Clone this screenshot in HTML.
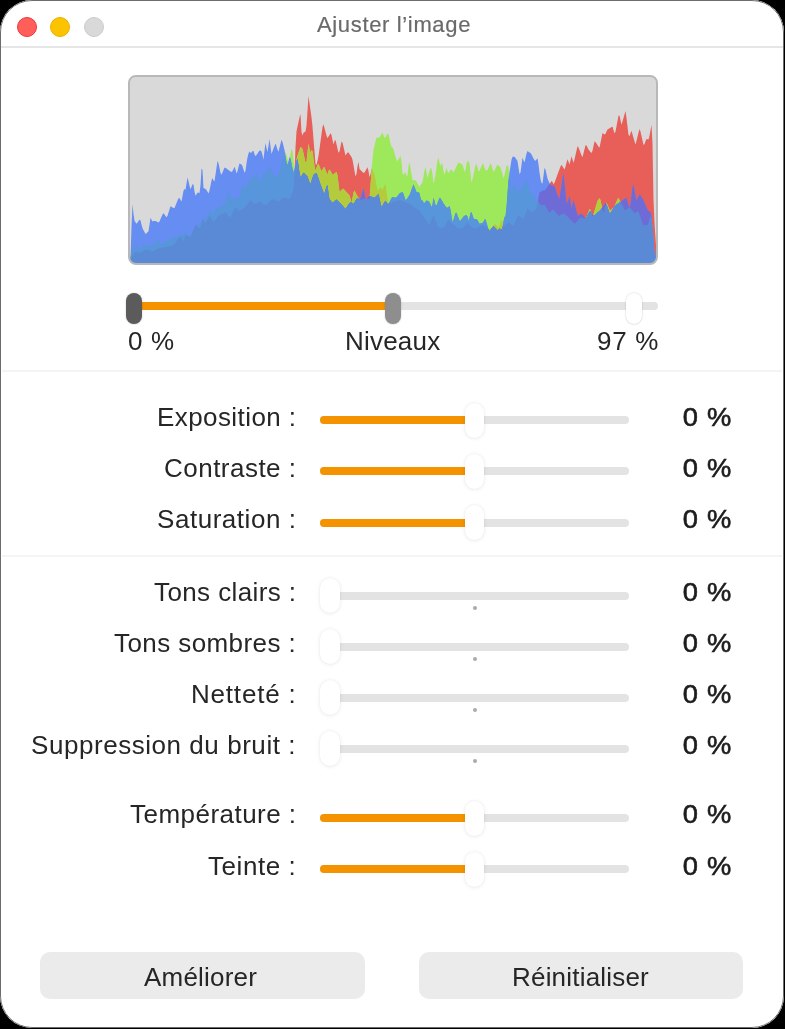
<!DOCTYPE html>
<html><head><meta charset="utf-8">
<style>
html,body{margin:0;padding:0;background:#000;width:785px;height:1029px;overflow:hidden;}
*{box-sizing:border-box;}
.win{position:absolute;left:0;top:0;width:784px;height:1028px;background:#fff;border-radius:32px;overflow:hidden;font-family:"Liberation Sans",sans-serif;}
.wborder{position:absolute;left:0;top:0;width:784px;height:1028px;border:1px solid #6c6c6c;border-radius:32px;}
.abs{position:absolute;}
.tl{position:absolute;width:20px;height:20px;border-radius:50%;top:16.5px;}
.title{position:absolute;left:1.5px;width:784px;text-align:center;top:13.68px;font-size:22px;line-height:22px;color:#6a6a6a;letter-spacing:0.65px;-webkit-text-stroke:0.2px #6a6a6a;}
.sep{position:absolute;left:2px;right:2px;height:2px;background:#f4f4f4;}
.lbl,.val,.lvl,.btxt,.title{will-change:transform;}
.lbl{position:absolute;font-size:26px;line-height:26px;color:#262626;white-space:nowrap;}
.val{position:absolute;right:52.2px;font-size:26px;line-height:26px;color:#1c1c1c;white-space:nowrap;letter-spacing:0.8px;-webkit-text-stroke:0.6px #1c1c1c;transform:scaleX(1.05);transform-origin:100% 50%;}
.trk{position:absolute;left:320px;width:309px;height:8px;border-radius:4px;background:#e3e3e3;}
.fill{position:absolute;left:320px;height:8px;border-radius:4px 0 0 4px;background:#f49200;}
.knob{position:absolute;width:16px;height:31px;border-radius:8px;background:#fff;box-shadow:0 0 2px rgba(0,0,0,0.18),0 0.5px 1.5px rgba(0,0,0,0.08);}
.rknob{position:absolute;width:19.5px;height:35px;border-radius:10px;background:#fff;box-shadow:0 0.5px 4px rgba(0,0,0,0.09),0 0 1.5px rgba(0,0,0,0.05);}
.dot{position:absolute;left:472.5px;width:4px;height:4px;border-radius:50%;background:#ababab;}
.lvl{position:absolute;font-size:26px;line-height:26px;color:#262626;white-space:nowrap;}
.btn{position:absolute;top:952px;height:47px;border-radius:10px;background:#ebebeb;}
.btxt{position:absolute;font-size:26px;line-height:26px;color:#262626;white-space:nowrap;letter-spacing:0.2px;}
</style></head><body>
<div class="win">
  <div class="tl" style="left:16.6px;background:#ff5f58;border:1px solid #e5393f;"></div>
  <div class="tl" style="left:50px;background:#fcc400;border:1px solid #eaae00;"></div>
  <div class="tl" style="left:83.6px;background:#d9d9d9;border:1px solid #cbcbcb;"></div>
  <div class="title">Ajuster l’image</div>
  <div class="abs" style="left:0;top:46px;width:784px;height:2px;background:#e6e6e6;"></div>

  <div class="abs" style="left:128px;top:75px;width:530px;height:190px;">
    <svg width="530" height="190" viewBox="128 75 530 190" style="position:absolute;left:0;top:0">
    <defs><clipPath id="hc"><rect x="129.8" y="76.8" width="526.4" height="186.4" rx="6.5" ry="6.5"/></clipPath></defs>
    <g clip-path="url(#hc)">
    <rect x="128" y="75" width="530" height="190" fill="#d9d9d9"/>
<path fill="#e85f5a" d="M128.5 265.0 L128.5 262.0 129.5 260.4 130.5 258.9 131.5 257.4 132.5 255.9 133.5 254.4 134.5 252.9 135.5 251.8 136.5 252.0 137.5 252.3 138.5 252.6 139.5 252.8 140.5 252.8 141.5 252.2 142.5 251.5 143.5 250.9 144.5 250.3 145.5 249.7 146.5 249.4 147.5 249.8 148.5 250.2 149.5 250.6 150.5 251.0 151.5 251.4 152.5 251.6 153.5 251.1 154.5 250.6 155.5 250.1 156.5 249.6 157.5 249.1 158.5 248.6 159.5 248.1 160.5 248.0 161.5 247.8 162.5 247.6 163.5 247.5 164.5 247.3 165.5 247.1 166.5 247.0 167.5 246.7 168.5 246.4 169.5 246.0 170.5 245.7 171.5 245.4 172.5 245.1 173.5 244.7 174.5 244.1 175.5 242.7 176.5 241.2 177.5 239.8 178.5 238.4 179.5 237.0 180.5 236.5 181.5 238.1 182.5 239.7 183.5 241.4 184.5 237.8 185.5 234.6 186.5 235.1 187.5 235.6 188.5 236.1 189.5 236.6 190.5 236.8 191.5 234.6 192.5 232.3 193.5 230.1 194.5 227.9 195.5 225.7 196.5 225.4 197.5 226.4 198.5 227.3 199.5 228.3 200.5 227.0 201.5 223.5 202.5 220.0 203.5 220.5 204.5 222.0 205.5 223.2 206.5 221.2 207.5 219.2 208.5 217.2 209.5 215.2 210.5 216.9 211.5 218.5 212.5 220.2 213.5 221.8 214.5 220.9 215.5 219.6 216.5 218.3 217.5 217.1 218.5 215.8 219.5 215.0 220.5 214.6 221.5 214.2 222.5 213.8 223.5 213.4 224.5 213.0 225.5 212.6 226.5 213.4 227.5 214.8 228.5 216.1 229.5 217.5 230.5 216.8 231.5 214.8 232.5 212.8 233.5 210.7 234.5 208.7 235.5 207.3 236.5 208.3 237.5 209.3 238.5 210.3 239.5 211.1 240.5 210.4 241.5 209.6 242.5 208.9 243.5 208.1 244.5 207.4 245.5 206.4 246.5 205.1 247.5 203.9 248.5 202.6 249.5 201.3 250.5 200.3 251.5 201.3 252.5 202.3 253.5 203.3 254.5 204.3 255.5 203.8 256.5 203.3 257.5 202.8 258.5 202.3 259.5 201.8 260.5 202.0 261.5 202.7 262.5 203.5 263.5 204.2 264.5 204.9 265.5 205.5 266.5 204.5 267.5 203.5 268.5 202.5 269.5 201.5 270.5 200.5 271.5 199.5 272.5 198.9 273.5 199.3 274.5 199.7 275.5 200.2 276.5 200.6 277.5 201.0 278.5 201.4 279.5 201.1 280.5 200.1 281.5 199.1 282.5 198.1 283.5 197.6 284.5 197.8 285.5 198.0 286.5 198.2 287.5 198.3 288.5 198.5 289.5 198.7 290.5 197.2 291.5 194.6 292.5 192.0 293.5 189.3 294.5 174.4 295.5 147.1 296.5 131.2 297.5 126.5 298.5 121.9 299.5 117.3 300.5 114.3 301.5 132.1 302.5 135.5 303.5 132.8 304.5 132.1 305.5 131.6 306.5 125.4 307.5 110.8 308.5 96.1 309.5 103.2 310.5 110.3 311.5 117.3 312.5 126.6 313.5 139.0 314.5 151.5 315.5 164.0 316.5 164.9 317.5 160.8 318.5 155.8 319.5 148.7 320.5 141.5 321.5 134.3 322.5 127.1 323.5 124.3 324.5 128.1 325.5 131.8 326.5 135.6 327.5 138.3 328.5 136.6 329.5 135.0 330.5 133.3 331.5 135.0 332.5 140.1 333.5 144.4 334.5 141.0 335.5 139.9 336.5 144.2 337.5 148.4 338.5 152.7 339.5 151.5 340.5 146.6 341.5 141.7 342.5 142.4 343.5 146.8 344.5 151.2 345.5 155.6 346.5 154.1 347.5 152.6 348.5 152.6 349.5 154.1 350.5 155.5 351.5 157.0 352.5 159.7 353.5 165.3 354.5 170.9 355.5 176.5 356.5 174.1 357.5 166.5 358.5 161.8 359.5 169.0 360.5 170.1 361.5 171.1 362.5 172.1 363.5 173.1 364.5 172.5 365.5 170.7 366.5 169.0 367.5 167.2 368.5 171.0 369.5 177.2 370.5 174.1 371.5 168.8 372.5 169.6 373.5 171.9 374.5 174.3 375.5 179.6 376.5 185.3 377.5 191.0 378.5 189.6 379.5 188.2 380.5 187.2 381.5 188.7 382.5 189.8 383.5 187.4 384.5 185.1 385.5 184.6 386.5 191.7 387.5 198.8 388.5 203.6 389.5 203.1 390.5 202.7 391.5 202.2 392.5 201.9 393.5 201.6 394.5 201.4 395.5 201.1 396.5 200.9 397.5 200.6 398.5 200.4 399.5 200.1 400.5 200.2 401.5 200.6 402.5 201.0 403.5 201.4 404.5 201.8 405.5 202.2 406.5 202.6 407.5 203.0 408.5 203.4 409.5 203.8 410.5 204.3 411.5 205.1 412.5 205.8 413.5 206.4 414.5 207.2 415.5 207.8 416.5 208.6 417.5 209.2 418.5 209.9 419.5 210.7 420.5 211.8 421.5 213.3 422.5 214.9 423.5 216.4 424.5 217.9 425.5 219.4 426.5 220.9 427.5 222.4 428.5 223.9 429.5 224.2 430.5 221.9 431.5 219.7 432.5 217.4 433.5 215.1 434.5 217.4 435.5 220.1 436.5 222.8 437.5 225.6 438.5 227.3 439.5 227.5 440.5 227.7 441.5 227.9 442.5 228.1 443.5 228.3 444.5 226.7 445.5 224.7 446.5 222.7 447.5 220.7 448.5 219.6 449.5 220.6 450.5 221.7 451.5 222.7 452.5 223.7 453.5 224.5 454.5 225.3 455.5 226.1 456.5 226.9 457.5 227.7 458.5 228.3 459.5 228.3 460.5 228.3 461.5 228.3 462.5 228.3 463.5 227.3 464.5 226.0 465.5 224.7 466.5 223.5 467.5 223.1 468.5 224.1 469.5 225.1 470.5 226.1 471.5 227.1 472.5 227.4 473.5 227.7 474.5 227.9 475.5 228.2 476.5 228.1 477.5 227.6 478.5 227.1 479.5 226.6 480.5 226.1 481.5 225.6 482.5 225.1 483.5 225.2 484.5 225.9 485.5 226.6 486.5 227.3 487.5 227.9 488.5 228.6 489.5 229.3 490.5 228.6 491.5 227.6 492.5 226.6 493.5 225.6 494.5 224.6 495.5 224.1 496.5 225.4 497.5 226.8 498.5 228.2 499.5 225.4 500.5 222.2 501.5 219.6 502.5 222.5 503.5 225.4 504.5 225.3 505.5 224.4 506.5 223.5 507.5 222.7 508.5 221.8 509.5 222.4 510.5 223.4 511.5 224.3 512.5 225.3 513.5 225.4 514.5 223.4 515.5 221.4 516.5 219.3 517.5 217.3 518.5 215.3 519.5 215.7 520.5 216.7 521.5 217.6 522.5 218.6 523.5 218.6 524.5 216.1 525.5 213.6 526.5 211.2 527.5 208.7 528.5 209.0 529.5 210.0 530.5 211.0 531.5 212.0 532.5 212.2 533.5 211.2 534.5 210.3 535.5 209.3 536.5 208.3 537.5 203.2 538.5 197.5 539.5 192.4 540.5 191.9 541.5 191.3 542.5 190.8 543.5 190.3 544.5 190.5 545.5 189.6 546.5 188.2 547.5 186.8 548.5 185.4 549.5 183.9 550.5 182.5 551.5 181.1 552.5 182.1 553.5 184.2 554.5 182.8 555.5 180.1 556.5 177.3 557.5 174.5 558.5 171.8 559.5 169.2 560.5 166.5 561.5 164.7 562.5 166.3 563.5 168.0 564.5 169.6 565.5 166.7 566.5 162.6 567.5 159.3 568.5 161.8 569.5 164.4 570.5 160.4 571.5 156.3 572.5 159.5 573.5 162.8 574.5 159.2 575.5 154.9 576.5 150.6 577.5 146.3 578.5 147.5 579.5 150.1 580.5 152.7 581.5 155.3 582.5 157.2 583.5 153.2 584.5 149.2 585.5 145.2 586.5 145.4 587.5 147.5 588.5 149.5 589.5 150.7 590.5 151.9 591.5 153.0 592.5 150.7 593.5 146.1 594.5 141.5 595.5 141.9 596.5 143.5 597.5 145.1 598.5 146.7 599.5 147.6 600.5 142.7 601.5 137.9 602.5 133.0 603.5 133.7 604.5 134.4 605.5 133.7 606.5 131.6 607.5 129.6 608.5 129.0 609.5 128.3 610.5 127.7 611.5 127.0 612.5 126.7 613.5 130.1 614.5 133.4 615.5 131.6 616.5 126.3 617.5 121.1 618.5 115.8 619.5 115.5 620.5 120.2 621.5 124.8 622.5 121.4 623.5 117.9 624.5 114.5 625.5 111.0 626.5 118.1 627.5 126.4 628.5 134.7 629.5 136.2 630.5 133.2 631.5 130.8 632.5 134.3 633.5 137.7 634.5 141.2 635.5 144.6 636.5 140.7 637.5 136.7 638.5 132.8 639.5 128.9 640.5 131.6 641.5 136.0 642.5 140.5 643.5 144.9 644.5 144.1 645.5 141.2 646.5 138.9 647.5 139.2 648.5 139.5 649.5 135.7 650.5 130.2 651.5 124.7 652.5 143.7 653.5 199.5 654.5 222.7 655.5 237.8 656.5 252.8 657.5 262.6 L657.5 265.0 Z"/>
<path fill="#9ee85c" d="M128.5 265.0 L128.5 262.0 129.5 258.5 130.5 255.1 131.5 252.5 132.5 249.9 133.5 247.3 134.5 245.8 135.5 246.2 136.5 246.5 137.5 246.8 138.5 248.1 139.5 249.6 140.5 249.9 141.5 248.2 142.5 246.6 143.5 245.0 144.5 244.8 145.5 245.2 146.5 245.6 147.5 246.0 148.5 246.3 149.5 246.7 150.5 246.6 151.5 246.0 152.5 245.4 153.5 244.8 154.5 244.0 155.5 242.9 156.5 241.8 157.5 240.6 158.5 239.7 159.5 241.1 160.5 242.5 161.5 243.8 162.5 244.1 163.5 243.3 164.5 242.5 165.5 241.7 166.5 240.9 167.5 240.1 168.5 239.4 169.5 239.0 170.5 238.7 171.5 238.3 172.5 237.9 173.5 237.5 174.5 237.1 175.5 236.9 176.5 236.6 177.5 236.4 178.5 236.1 179.5 235.7 180.5 235.2 181.5 234.7 182.5 234.2 183.5 233.7 184.5 233.2 185.5 233.2 186.5 233.7 187.5 234.2 188.5 234.7 189.5 235.2 190.5 235.4 191.5 233.7 192.5 232.0 193.5 230.2 194.5 228.5 195.5 226.8 196.5 225.6 197.5 224.9 198.5 224.1 199.5 223.4 200.5 222.6 201.5 221.9 202.5 221.1 203.5 220.4 204.5 219.7 205.5 218.9 206.5 218.2 207.5 216.0 208.5 213.2 209.5 210.4 210.5 209.1 211.5 211.5 212.5 213.9 213.5 216.4 214.5 210.9 215.5 208.2 216.5 207.9 217.5 207.6 218.5 207.3 219.5 206.9 220.5 206.4 221.5 205.9 222.5 205.4 223.5 204.9 224.5 204.4 225.5 201.3 226.5 198.2 227.5 195.2 228.5 192.1 229.5 194.5 230.5 197.0 231.5 198.9 232.5 198.7 233.5 198.5 234.5 198.4 235.5 198.2 236.5 198.1 237.5 197.9 238.5 197.7 239.5 197.1 240.5 192.6 241.5 188.0 242.5 185.7 243.5 186.6 244.5 187.5 245.5 187.2 246.5 185.5 247.5 183.9 248.5 182.2 249.5 180.8 250.5 179.8 251.5 178.8 252.5 177.8 253.5 176.8 254.5 175.8 255.5 174.7 256.5 173.7 257.5 174.2 258.5 178.1 259.5 182.0 260.5 182.5 261.5 179.7 262.5 176.9 263.5 174.3 264.5 173.2 265.5 172.1 266.5 170.9 267.5 169.8 268.5 168.7 269.5 167.6 270.5 169.6 271.5 171.6 272.5 173.5 273.5 175.5 274.5 176.0 275.5 176.3 276.5 176.7 277.5 177.0 278.5 174.4 279.5 171.0 280.5 167.6 281.5 164.2 282.5 161.1 283.5 158.1 284.5 155.1 285.5 152.1 286.5 154.4 287.5 158.9 288.5 163.5 289.5 158.6 290.5 153.8 291.5 148.9 292.5 151.1 293.5 160.4 294.5 169.7 295.5 166.2 296.5 159.4 297.5 155.7 298.5 152.8 299.5 150.0 300.5 147.1 301.5 147.7 302.5 148.8 303.5 153.4 304.5 157.9 305.5 162.5 306.5 161.7 307.5 152.5 308.5 143.4 309.5 148.8 310.5 152.7 311.5 149.9 312.5 151.3 313.5 158.7 314.5 166.2 315.5 170.5 316.5 167.7 317.5 164.9 318.5 163.7 319.5 166.5 320.5 169.2 321.5 171.1 322.5 169.4 323.5 167.8 324.5 167.1 325.5 169.9 326.5 172.7 327.5 174.4 328.5 171.1 329.5 169.4 330.5 171.1 331.5 172.8 332.5 174.5 333.5 174.4 334.5 173.5 335.5 172.7 336.5 171.8 337.5 175.5 338.5 183.8 339.5 192.0 340.5 191.0 341.5 190.0 342.5 189.0 343.5 188.8 344.5 190.0 345.5 191.1 346.5 192.2 347.5 193.3 348.5 194.3 349.5 195.4 350.5 198.5 351.5 202.6 352.5 198.0 353.5 192.4 354.5 190.6 355.5 192.6 356.5 194.5 357.5 196.3 358.5 197.8 359.5 199.3 360.5 199.9 361.5 199.8 362.5 199.7 363.5 199.6 364.5 199.5 365.5 199.4 366.5 199.3 367.5 199.2 368.5 199.1 369.5 199.0 370.5 186.1 371.5 169.9 372.5 159.3 373.5 150.1 374.5 145.6 375.5 141.5 376.5 137.5 377.5 137.7 378.5 137.9 379.5 137.2 380.5 135.6 381.5 134.0 382.5 132.8 383.5 135.3 384.5 137.8 385.5 137.3 386.5 135.6 387.5 133.8 388.5 134.0 389.5 138.7 390.5 143.5 391.5 146.7 392.5 147.6 393.5 149.6 394.5 153.1 395.5 156.6 396.5 160.1 397.5 160.9 398.5 159.2 399.5 157.4 400.5 155.7 401.5 161.8 402.5 173.0 403.5 175.0 404.5 173.0 405.5 172.6 406.5 176.0 407.5 175.5 408.5 165.7 409.5 162.3 410.5 168.3 411.5 174.3 412.5 180.3 413.5 180.3 414.5 180.3 415.5 180.3 416.5 181.4 417.5 183.3 418.5 185.2 419.5 187.1 420.5 185.1 421.5 183.8 422.5 182.5 423.5 176.5 424.5 170.5 425.5 166.8 426.5 172.4 427.5 178.0 428.5 174.4 429.5 170.9 430.5 168.1 431.5 168.8 432.5 174.0 433.5 183.7 434.5 179.9 435.5 174.5 436.5 167.8 437.5 160.3 438.5 157.7 439.5 162.8 440.5 166.2 441.5 162.9 442.5 164.6 443.5 171.2 444.5 174.8 445.5 171.4 446.5 168.0 447.5 171.3 448.5 173.1 449.5 171.4 450.5 169.8 451.5 169.8 452.5 171.0 453.5 172.2 454.5 170.6 455.5 168.4 456.5 166.2 457.5 164.0 458.5 162.5 459.5 163.0 460.5 163.5 461.5 164.0 462.5 164.5 463.5 167.9 464.5 172.0 465.5 169.9 466.5 163.9 467.5 160.6 468.5 161.5 469.5 163.4 470.5 173.0 471.5 182.6 472.5 179.4 473.5 174.6 474.5 169.9 475.5 165.2 476.5 163.8 477.5 167.4 478.5 171.0 479.5 170.9 480.5 168.5 481.5 166.1 482.5 163.6 483.5 164.2 484.5 167.7 485.5 170.2 486.5 170.2 487.5 170.2 488.5 167.8 489.5 165.5 490.5 163.1 491.5 164.9 492.5 168.5 493.5 172.0 494.5 170.6 495.5 168.6 496.5 166.6 497.5 164.6 498.5 165.6 499.5 166.6 500.5 167.6 501.5 170.4 502.5 174.3 503.5 178.3 504.5 175.3 505.5 170.6 506.5 165.9 507.5 164.8 508.5 167.5 509.5 176.9 510.5 188.0 511.5 190.9 512.5 188.3 513.5 185.7 514.5 184.1 515.5 186.8 516.5 189.5 517.5 192.2 518.5 191.3 519.5 190.0 520.5 188.7 521.5 187.4 522.5 186.0 523.5 184.6 524.5 183.2 525.5 181.8 526.5 180.4 527.5 183.6 528.5 187.3 529.5 191.0 530.5 193.1 531.5 194.1 532.5 195.1 533.5 196.1 534.5 197.1 535.5 198.5 536.5 199.9 537.5 201.2 538.5 202.5 539.5 203.8 540.5 205.1 541.5 205.8 542.5 205.5 543.5 205.3 544.5 205.0 545.5 206.2 546.5 208.2 547.5 210.2 548.5 212.2 549.5 213.0 550.5 212.0 551.5 211.0 552.5 210.0 553.5 209.7 554.5 210.9 555.5 212.2 556.5 213.5 557.5 214.7 558.5 216.0 559.5 215.7 560.5 215.2 561.5 214.7 562.5 214.2 563.5 213.7 564.5 213.9 565.5 214.9 566.5 215.9 567.5 216.8 568.5 217.8 569.5 218.8 570.5 219.8 571.5 220.8 572.5 221.9 573.5 222.9 574.5 223.9 575.5 223.6 576.5 222.3 577.5 221.1 578.5 219.8 579.5 218.6 580.5 217.5 581.5 217.8 582.5 218.0 583.5 218.2 584.5 218.5 585.5 218.7 586.5 217.0 587.5 214.3 588.5 211.7 589.5 209.1 590.5 210.1 591.5 213.6 592.5 217.1 593.5 214.4 594.5 211.0 595.5 207.7 596.5 204.3 597.5 201.1 598.5 199.6 599.5 198.2 600.5 200.0 601.5 205.0 602.5 210.0 603.5 213.3 604.5 209.8 605.5 206.3 606.5 202.8 607.5 204.7 608.5 207.2 609.5 209.7 610.5 210.2 611.5 209.4 612.5 208.6 613.5 207.8 614.5 206.2 615.5 203.9 616.5 201.5 617.5 199.2 618.5 198.1 619.5 200.1 620.5 202.1 621.5 204.1 622.5 206.1 623.5 208.1 624.5 210.1 625.5 210.2 626.5 209.6 627.5 208.9 628.5 208.3 629.5 207.6 630.5 208.3 631.5 209.7 632.5 211.0 633.5 212.4 634.5 213.7 635.5 213.2 636.5 212.2 637.5 211.2 638.5 212.2 639.5 215.2 640.5 218.1 641.5 221.1 642.5 224.1 643.5 225.6 644.5 225.6 645.5 225.6 646.5 225.6 647.5 225.6 648.5 223.5 649.5 220.0 650.5 216.5 651.5 217.5 652.5 229.0 653.5 240.5 654.5 252.0 655.5 255.3 656.5 258.6 657.5 262.6 L657.5 265.0 Z"/>
<path fill="#b4cc3c" d="M128.5 265.0 L128.5 262.0 129.5 260.4 130.5 258.9 131.5 257.4 132.5 255.9 133.5 254.4 134.5 252.9 135.5 251.8 136.5 252.0 137.5 252.3 138.5 252.6 139.5 252.8 140.5 252.8 141.5 252.2 142.5 251.5 143.5 250.9 144.5 250.3 145.5 249.7 146.5 249.4 147.5 249.8 148.5 250.2 149.5 250.6 150.5 251.0 151.5 251.4 152.5 251.6 153.5 251.1 154.5 250.6 155.5 250.1 156.5 249.6 157.5 249.1 158.5 248.6 159.5 248.1 160.5 248.0 161.5 247.8 162.5 247.6 163.5 247.5 164.5 247.3 165.5 247.1 166.5 247.0 167.5 246.7 168.5 246.4 169.5 246.0 170.5 245.7 171.5 245.4 172.5 245.1 173.5 244.7 174.5 244.1 175.5 242.7 176.5 241.2 177.5 239.8 178.5 238.4 179.5 237.0 180.5 236.5 181.5 238.1 182.5 239.7 183.5 241.4 184.5 237.8 185.5 234.6 186.5 235.1 187.5 235.6 188.5 236.1 189.5 236.6 190.5 236.8 191.5 234.6 192.5 232.3 193.5 230.2 194.5 228.5 195.5 226.8 196.5 225.6 197.5 226.4 198.5 227.3 199.5 228.3 200.5 227.0 201.5 223.5 202.5 221.1 203.5 220.5 204.5 222.0 205.5 223.2 206.5 221.2 207.5 219.2 208.5 217.2 209.5 215.2 210.5 216.9 211.5 218.5 212.5 220.2 213.5 221.8 214.5 220.9 215.5 219.6 216.5 218.3 217.5 217.1 218.5 215.8 219.5 215.0 220.5 214.6 221.5 214.2 222.5 213.8 223.5 213.4 224.5 213.0 225.5 212.6 226.5 213.4 227.5 214.8 228.5 216.1 229.5 217.5 230.5 216.8 231.5 214.8 232.5 212.8 233.5 210.7 234.5 208.7 235.5 207.3 236.5 208.3 237.5 209.3 238.5 210.3 239.5 211.1 240.5 210.4 241.5 209.6 242.5 208.9 243.5 208.1 244.5 207.4 245.5 206.4 246.5 205.1 247.5 203.9 248.5 202.6 249.5 201.3 250.5 200.3 251.5 201.3 252.5 202.3 253.5 203.3 254.5 204.3 255.5 203.8 256.5 203.3 257.5 202.8 258.5 202.3 259.5 201.8 260.5 202.0 261.5 202.7 262.5 203.5 263.5 204.2 264.5 204.9 265.5 205.5 266.5 204.5 267.5 203.5 268.5 202.5 269.5 201.5 270.5 200.5 271.5 199.5 272.5 198.9 273.5 199.3 274.5 199.7 275.5 200.2 276.5 200.6 277.5 201.0 278.5 201.4 279.5 201.1 280.5 200.1 281.5 199.1 282.5 198.1 283.5 197.6 284.5 197.8 285.5 198.0 286.5 198.2 287.5 198.3 288.5 198.5 289.5 198.7 290.5 197.2 291.5 194.6 292.5 192.0 293.5 189.3 294.5 174.4 295.5 166.2 296.5 159.4 297.5 155.7 298.5 152.8 299.5 150.0 300.5 147.1 301.5 147.7 302.5 148.8 303.5 153.4 304.5 157.9 305.5 162.5 306.5 161.7 307.5 152.5 308.5 143.4 309.5 148.8 310.5 152.7 311.5 149.9 312.5 151.3 313.5 158.7 314.5 166.2 315.5 170.5 316.5 167.7 317.5 164.9 318.5 163.7 319.5 166.5 320.5 169.2 321.5 171.1 322.5 169.4 323.5 167.8 324.5 167.1 325.5 169.9 326.5 172.7 327.5 174.4 328.5 171.1 329.5 169.4 330.5 171.1 331.5 172.8 332.5 174.5 333.5 174.4 334.5 173.5 335.5 172.7 336.5 171.8 337.5 175.5 338.5 183.8 339.5 192.0 340.5 191.0 341.5 190.0 342.5 189.0 343.5 188.8 344.5 190.0 345.5 191.1 346.5 192.2 347.5 193.3 348.5 194.3 349.5 195.4 350.5 198.5 351.5 202.6 352.5 198.0 353.5 192.4 354.5 190.6 355.5 192.6 356.5 194.5 357.5 196.3 358.5 197.8 359.5 199.3 360.5 199.9 361.5 199.8 362.5 199.7 363.5 199.6 364.5 199.5 365.5 199.4 366.5 199.3 367.5 199.2 368.5 199.1 369.5 199.0 370.5 186.1 371.5 169.9 372.5 169.6 373.5 171.9 374.5 174.3 375.5 179.6 376.5 185.3 377.5 191.0 378.5 189.6 379.5 188.2 380.5 187.2 381.5 188.7 382.5 189.8 383.5 187.4 384.5 185.1 385.5 184.6 386.5 191.7 387.5 198.8 388.5 203.6 389.5 203.1 390.5 202.7 391.5 202.2 392.5 201.9 393.5 201.6 394.5 201.4 395.5 201.1 396.5 200.9 397.5 200.6 398.5 200.4 399.5 200.1 400.5 200.2 401.5 200.6 402.5 201.0 403.5 201.4 404.5 201.8 405.5 202.2 406.5 202.6 407.5 203.0 408.5 203.4 409.5 203.8 410.5 204.3 411.5 205.1 412.5 205.8 413.5 206.4 414.5 207.2 415.5 207.8 416.5 208.6 417.5 209.2 418.5 209.9 419.5 210.7 420.5 211.8 421.5 213.3 422.5 214.9 423.5 216.4 424.5 217.9 425.5 219.4 426.5 220.9 427.5 222.4 428.5 223.9 429.5 224.2 430.5 221.9 431.5 219.7 432.5 217.4 433.5 215.1 434.5 217.4 435.5 220.1 436.5 222.8 437.5 225.6 438.5 227.3 439.5 227.5 440.5 227.7 441.5 227.9 442.5 228.1 443.5 228.3 444.5 226.7 445.5 224.7 446.5 222.7 447.5 220.7 448.5 219.6 449.5 220.6 450.5 221.7 451.5 222.7 452.5 223.7 453.5 224.5 454.5 225.3 455.5 226.1 456.5 226.9 457.5 227.7 458.5 228.3 459.5 228.3 460.5 228.3 461.5 228.3 462.5 228.3 463.5 227.3 464.5 226.0 465.5 224.7 466.5 223.5 467.5 223.1 468.5 224.1 469.5 225.1 470.5 226.1 471.5 227.1 472.5 227.4 473.5 227.7 474.5 227.9 475.5 228.2 476.5 228.1 477.5 227.6 478.5 227.1 479.5 226.6 480.5 226.1 481.5 225.6 482.5 225.1 483.5 225.2 484.5 225.9 485.5 226.6 486.5 227.3 487.5 227.9 488.5 228.6 489.5 229.3 490.5 228.6 491.5 227.6 492.5 226.6 493.5 225.6 494.5 224.6 495.5 224.1 496.5 225.4 497.5 226.8 498.5 228.2 499.5 225.4 500.5 222.2 501.5 219.6 502.5 222.5 503.5 225.4 504.5 225.3 505.5 224.4 506.5 223.5 507.5 222.7 508.5 221.8 509.5 222.4 510.5 223.4 511.5 224.3 512.5 225.3 513.5 225.4 514.5 223.4 515.5 221.4 516.5 219.3 517.5 217.3 518.5 215.3 519.5 215.7 520.5 216.7 521.5 217.6 522.5 218.6 523.5 218.6 524.5 216.1 525.5 213.6 526.5 211.2 527.5 208.7 528.5 209.0 529.5 210.0 530.5 211.0 531.5 212.0 532.5 212.2 533.5 211.2 534.5 210.3 535.5 209.3 536.5 208.3 537.5 203.2 538.5 202.5 539.5 203.8 540.5 205.1 541.5 205.8 542.5 205.5 543.5 205.3 544.5 205.0 545.5 206.2 546.5 208.2 547.5 210.2 548.5 212.2 549.5 213.0 550.5 212.0 551.5 211.0 552.5 210.0 553.5 209.7 554.5 210.9 555.5 212.2 556.5 213.5 557.5 214.7 558.5 216.0 559.5 215.7 560.5 215.2 561.5 214.7 562.5 214.2 563.5 213.7 564.5 213.9 565.5 214.9 566.5 215.9 567.5 216.8 568.5 217.8 569.5 218.8 570.5 219.8 571.5 220.8 572.5 221.9 573.5 222.9 574.5 223.9 575.5 223.6 576.5 222.3 577.5 221.1 578.5 219.8 579.5 218.6 580.5 217.5 581.5 217.8 582.5 218.0 583.5 218.2 584.5 218.5 585.5 218.7 586.5 217.0 587.5 214.3 588.5 211.7 589.5 209.1 590.5 210.1 591.5 213.6 592.5 217.1 593.5 214.4 594.5 211.0 595.5 207.7 596.5 204.3 597.5 201.1 598.5 199.6 599.5 198.2 600.5 200.0 601.5 205.0 602.5 210.0 603.5 213.3 604.5 209.8 605.5 206.3 606.5 202.8 607.5 204.7 608.5 207.2 609.5 209.7 610.5 210.2 611.5 209.4 612.5 208.6 613.5 207.8 614.5 206.2 615.5 203.9 616.5 201.5 617.5 199.2 618.5 198.1 619.5 200.1 620.5 202.1 621.5 204.1 622.5 206.1 623.5 208.1 624.5 210.1 625.5 210.2 626.5 209.6 627.5 208.9 628.5 208.3 629.5 207.6 630.5 208.3 631.5 209.7 632.5 211.0 633.5 212.4 634.5 213.7 635.5 213.2 636.5 212.2 637.5 211.2 638.5 212.2 639.5 215.2 640.5 218.1 641.5 221.1 642.5 224.1 643.5 225.6 644.5 225.6 645.5 225.6 646.5 225.6 647.5 225.6 648.5 223.5 649.5 220.0 650.5 216.5 651.5 217.5 652.5 229.0 653.5 240.5 654.5 252.0 655.5 255.3 656.5 258.6 657.5 262.6 L657.5 265.0 Z"/>
<path fill="#658df2" d="M128.5 265.0 L128.5 262.0 129.5 261.7 130.5 258.4 131.5 227.1 132.5 204.0 133.5 214.1 134.5 220.8 135.5 222.3 136.5 223.8 137.5 222.5 138.5 221.1 139.5 219.8 140.5 220.6 141.5 224.4 142.5 228.3 143.5 230.3 144.5 232.1 145.5 233.9 146.5 233.2 147.5 232.2 148.5 231.2 149.5 224.8 150.5 217.7 151.5 219.8 152.5 221.4 153.5 221.1 154.5 220.9 155.5 221.1 156.5 221.6 157.5 222.0 158.5 222.4 159.5 221.4 160.5 219.1 161.5 216.8 162.5 214.5 163.5 213.3 164.5 214.6 165.5 215.9 166.5 217.2 167.5 215.8 168.5 212.6 169.5 209.4 170.5 206.2 171.5 206.8 172.5 207.5 173.5 208.1 174.5 207.9 175.5 205.5 176.5 203.1 177.5 200.7 178.5 198.3 179.5 198.1 180.5 200.1 181.5 201.4 182.5 196.0 183.5 190.7 184.5 189.0 185.5 189.7 186.5 183.8 187.5 177.5 188.5 181.6 189.5 185.7 190.5 189.2 191.5 186.7 192.5 184.3 193.5 184.6 194.5 191.4 195.5 195.7 196.5 194.2 197.5 192.7 198.5 192.5 199.5 193.2 200.5 185.2 201.5 168.4 202.5 170.1 203.5 188.1 204.5 188.6 205.5 189.1 206.5 190.1 207.5 191.8 208.5 193.6 209.5 190.6 210.5 185.6 211.5 180.6 212.5 177.9 213.5 180.5 214.5 181.2 215.5 174.4 216.5 167.7 217.5 160.9 218.5 163.3 219.5 168.1 220.5 172.9 221.5 174.8 222.5 172.4 223.5 170.0 224.5 167.6 225.5 168.1 226.5 168.6 227.5 169.2 228.5 169.9 229.5 170.7 230.5 171.4 231.5 172.1 232.5 171.1 233.5 168.9 234.5 166.7 235.5 169.5 236.5 173.6 237.5 171.2 238.5 167.1 239.5 163.6 240.5 164.1 241.5 164.6 242.5 166.2 243.5 169.5 244.5 172.8 245.5 170.7 246.5 163.2 247.5 157.4 248.5 153.5 249.5 151.6 250.5 152.7 251.5 152.7 252.5 151.0 253.5 150.9 254.5 154.3 255.5 156.3 256.5 154.9 257.5 153.4 258.5 152.0 259.5 150.6 260.5 150.4 261.5 151.4 262.5 155.0 263.5 159.8 264.5 150.6 265.5 142.9 266.5 148.0 267.5 152.0 268.5 145.5 269.5 139.0 270.5 146.4 271.5 153.9 272.5 151.3 273.5 148.6 274.5 146.0 275.5 143.4 276.5 146.3 277.5 149.8 278.5 151.8 279.5 147.8 280.5 143.8 281.5 139.8 282.5 142.1 283.5 146.0 284.5 149.9 285.5 155.9 286.5 162.0 287.5 165.0 288.5 161.0 289.5 156.9 290.5 158.4 291.5 163.6 292.5 168.8 293.5 172.3 294.5 168.6 295.5 165.0 296.5 161.3 297.5 158.7 298.5 165.8 299.5 172.9 300.5 177.5 301.5 175.9 302.5 174.3 303.5 172.8 304.5 173.5 305.5 174.4 306.5 175.4 307.5 176.8 308.5 179.6 309.5 182.4 310.5 184.1 311.5 180.9 312.5 177.8 313.5 174.9 314.5 174.1 315.5 173.3 316.5 172.9 317.5 175.8 318.5 178.6 319.5 181.5 320.5 184.4 321.5 187.1 322.5 189.7 323.5 192.4 324.5 193.8 325.5 190.1 326.5 186.4 327.5 185.2 328.5 193.5 329.5 199.6 330.5 200.6 331.5 201.7 332.5 202.7 333.5 202.3 334.5 201.3 335.5 200.2 336.5 199.4 337.5 200.4 338.5 201.4 339.5 202.4 340.5 203.4 341.5 204.6 342.5 205.7 343.5 206.8 344.5 207.9 345.5 209.0 346.5 207.5 347.5 205.9 348.5 204.4 349.5 203.3 350.5 202.2 351.5 202.2 352.5 203.3 353.5 204.0 354.5 202.4 355.5 200.7 356.5 199.1 357.5 198.3 358.5 198.8 359.5 199.3 360.5 198.8 361.5 195.1 362.5 191.4 363.5 188.5 364.5 193.8 365.5 199.1 366.5 199.6 367.5 198.0 368.5 196.4 369.5 196.1 370.5 196.5 371.5 196.8 372.5 197.1 373.5 197.4 374.5 197.8 375.5 196.9 376.5 195.9 377.5 194.9 378.5 193.9 379.5 198.6 380.5 203.3 381.5 207.3 382.5 205.6 383.5 203.8 384.5 202.1 385.5 201.0 386.5 202.3 387.5 203.7 388.5 204.0 389.5 202.0 390.5 200.0 391.5 198.0 392.5 196.9 393.5 197.2 394.5 197.4 395.5 197.7 396.5 197.2 397.5 196.0 398.5 194.7 399.5 193.5 400.5 192.8 401.5 192.4 402.5 192.1 403.5 194.1 404.5 197.1 405.5 200.1 406.5 199.5 407.5 198.0 408.5 196.5 409.5 195.0 410.5 192.4 411.5 189.7 412.5 186.9 413.5 184.2 414.5 186.9 415.5 189.6 416.5 192.0 417.5 192.3 418.5 192.6 419.5 192.9 420.5 198.1 421.5 200.5 422.5 200.4 423.5 202.5 424.5 203.1 425.5 201.7 426.5 200.4 427.5 200.8 428.5 201.2 429.5 202.2 430.5 204.6 431.5 207.0 432.5 204.7 433.5 197.7 434.5 201.0 435.5 205.3 436.5 205.5 437.5 203.0 438.5 200.4 439.5 197.8 440.5 198.2 441.5 199.9 442.5 201.6 443.5 203.4 444.5 204.8 445.5 206.2 446.5 207.5 447.5 207.8 448.5 207.0 449.5 206.1 450.5 210.1 451.5 216.1 452.5 222.1 453.5 219.7 454.5 216.4 455.5 213.1 456.5 212.8 457.5 215.4 458.5 218.0 459.5 220.6 460.5 220.7 461.5 219.3 462.5 217.9 463.5 216.4 464.5 215.8 465.5 215.4 466.5 215.1 467.5 216.5 468.5 220.4 469.5 218.0 470.5 212.9 471.5 212.0 472.5 215.2 473.5 218.3 474.5 219.3 475.5 219.3 476.5 219.3 477.5 219.9 478.5 222.0 479.5 223.8 480.5 223.5 481.5 223.2 482.5 222.9 483.5 221.7 484.5 219.6 485.5 219.2 486.5 222.7 487.5 226.1 488.5 229.5 489.5 231.1 490.5 229.9 491.5 228.6 492.5 227.4 493.5 226.1 494.5 227.0 495.5 228.2 496.5 229.3 497.5 230.5 498.5 229.5 499.5 228.6 500.5 229.0 501.5 230.0 502.5 227.5 503.5 221.4 504.5 216.9 505.5 216.3 506.5 207.6 507.5 193.7 508.5 179.7 509.5 172.0 510.5 165.9 511.5 159.8 512.5 156.8 513.5 156.8 514.5 156.8 515.5 157.9 516.5 159.5 517.5 161.1 518.5 167.4 519.5 174.2 520.5 172.4 521.5 165.0 522.5 157.5 523.5 160.3 524.5 162.6 525.5 158.0 526.5 153.4 527.5 151.0 528.5 151.7 529.5 152.4 530.5 153.1 531.5 154.5 532.5 156.4 533.5 158.4 534.5 160.3 535.5 160.7 536.5 159.4 537.5 158.2 538.5 164.5 539.5 172.8 540.5 178.9 541.5 183.0 542.5 183.5 543.5 175.7 544.5 168.0 545.5 169.4 546.5 173.9 547.5 178.5 548.5 181.0 549.5 183.0 550.5 184.8 551.5 185.2 552.5 185.5 553.5 185.9 554.5 186.2 555.5 189.0 556.5 191.9 557.5 194.7 558.5 197.5 559.5 198.5 560.5 191.8 561.5 185.2 562.5 178.6 563.5 173.6 564.5 183.1 565.5 192.7 566.5 202.3 567.5 202.7 568.5 199.2 569.5 195.7 570.5 201.8 571.5 208.0 572.5 204.1 573.5 200.2 574.5 203.4 575.5 207.4 576.5 211.3 577.5 215.3 578.5 215.6 579.5 214.9 580.5 214.2 581.5 213.5 582.5 214.5 583.5 215.8 584.5 217.1 585.5 218.4 586.5 217.4 587.5 215.4 588.5 213.5 589.5 211.5 590.5 211.5 591.5 212.8 592.5 214.1 593.5 215.4 594.5 215.6 595.5 214.6 596.5 213.6 597.5 212.6 598.5 211.7 599.5 211.0 600.5 210.0 601.5 208.6 602.5 207.1 603.5 205.7 604.5 204.3 605.5 202.8 606.5 204.4 607.5 207.2 608.5 210.0 609.5 212.9 610.5 213.0 611.5 211.3 612.5 209.7 613.5 208.0 614.5 206.4 615.5 205.3 616.5 204.6 617.5 203.9 618.5 203.3 619.5 202.6 620.5 201.9 621.5 201.1 622.5 200.4 623.5 199.7 624.5 198.9 625.5 198.2 626.5 197.8 627.5 201.2 628.5 204.6 629.5 208.0 630.5 203.4 631.5 195.4 632.5 187.4 633.5 184.8 634.5 190.3 635.5 195.8 636.5 200.6 637.5 198.6 638.5 196.6 639.5 194.6 640.5 195.5 641.5 197.1 642.5 198.7 643.5 200.3 644.5 202.5 645.5 204.9 646.5 207.3 647.5 209.7 648.5 211.0 649.5 211.5 650.5 212.0 651.5 216.0 652.5 228.0 653.5 240.0 654.5 252.0 655.5 255.3 656.5 258.6 657.5 262.6 L657.5 265.0 Z"/>
<path fill="#6e6ad6" d="M128.5 265.0 L128.5 262.0 129.5 261.7 130.5 258.9 131.5 257.4 132.5 255.9 133.5 254.4 134.5 252.9 135.5 251.8 136.5 252.0 137.5 252.3 138.5 252.6 139.5 252.8 140.5 252.8 141.5 252.2 142.5 251.5 143.5 250.9 144.5 250.3 145.5 249.7 146.5 249.4 147.5 249.8 148.5 250.2 149.5 250.6 150.5 251.0 151.5 251.4 152.5 251.6 153.5 251.1 154.5 250.6 155.5 250.1 156.5 249.6 157.5 249.1 158.5 248.6 159.5 248.1 160.5 248.0 161.5 247.8 162.5 247.6 163.5 247.5 164.5 247.3 165.5 247.1 166.5 247.0 167.5 246.7 168.5 246.4 169.5 246.0 170.5 245.7 171.5 245.4 172.5 245.1 173.5 244.7 174.5 244.1 175.5 242.7 176.5 241.2 177.5 239.8 178.5 238.4 179.5 237.0 180.5 236.5 181.5 238.1 182.5 239.7 183.5 241.4 184.5 237.8 185.5 234.6 186.5 235.1 187.5 235.6 188.5 236.1 189.5 236.6 190.5 236.8 191.5 234.6 192.5 232.3 193.5 230.1 194.5 227.9 195.5 225.7 196.5 225.4 197.5 226.4 198.5 227.3 199.5 228.3 200.5 227.0 201.5 223.5 202.5 220.0 203.5 220.5 204.5 222.0 205.5 223.2 206.5 221.2 207.5 219.2 208.5 217.2 209.5 215.2 210.5 216.9 211.5 218.5 212.5 220.2 213.5 221.8 214.5 220.9 215.5 219.6 216.5 218.3 217.5 217.1 218.5 215.8 219.5 215.0 220.5 214.6 221.5 214.2 222.5 213.8 223.5 213.4 224.5 213.0 225.5 212.6 226.5 213.4 227.5 214.8 228.5 216.1 229.5 217.5 230.5 216.8 231.5 214.8 232.5 212.8 233.5 210.7 234.5 208.7 235.5 207.3 236.5 208.3 237.5 209.3 238.5 210.3 239.5 211.1 240.5 210.4 241.5 209.6 242.5 208.9 243.5 208.1 244.5 207.4 245.5 206.4 246.5 205.1 247.5 203.9 248.5 202.6 249.5 201.3 250.5 200.3 251.5 201.3 252.5 202.3 253.5 203.3 254.5 204.3 255.5 203.8 256.5 203.3 257.5 202.8 258.5 202.3 259.5 201.8 260.5 202.0 261.5 202.7 262.5 203.5 263.5 204.2 264.5 204.9 265.5 205.5 266.5 204.5 267.5 203.5 268.5 202.5 269.5 201.5 270.5 200.5 271.5 199.5 272.5 198.9 273.5 199.3 274.5 199.7 275.5 200.2 276.5 200.6 277.5 201.0 278.5 201.4 279.5 201.1 280.5 200.1 281.5 199.1 282.5 198.1 283.5 197.6 284.5 197.8 285.5 198.0 286.5 198.2 287.5 198.3 288.5 198.5 289.5 198.7 290.5 197.2 291.5 194.6 292.5 192.0 293.5 189.3 294.5 174.4 295.5 165.0 296.5 161.3 297.5 158.7 298.5 165.8 299.5 172.9 300.5 177.5 301.5 175.9 302.5 174.3 303.5 172.8 304.5 173.5 305.5 174.4 306.5 175.4 307.5 176.8 308.5 179.6 309.5 182.4 310.5 184.1 311.5 180.9 312.5 177.8 313.5 174.9 314.5 174.1 315.5 173.3 316.5 172.9 317.5 175.8 318.5 178.6 319.5 181.5 320.5 184.4 321.5 187.1 322.5 189.7 323.5 192.4 324.5 193.8 325.5 190.1 326.5 186.4 327.5 185.2 328.5 193.5 329.5 199.6 330.5 200.6 331.5 201.7 332.5 202.7 333.5 202.3 334.5 201.3 335.5 200.2 336.5 199.4 337.5 200.4 338.5 201.4 339.5 202.4 340.5 203.4 341.5 204.6 342.5 205.7 343.5 206.8 344.5 207.9 345.5 209.0 346.5 207.5 347.5 205.9 348.5 204.4 349.5 203.3 350.5 202.2 351.5 202.2 352.5 203.3 353.5 204.0 354.5 202.4 355.5 200.7 356.5 199.1 357.5 198.3 358.5 198.8 359.5 199.3 360.5 198.8 361.5 195.1 362.5 191.4 363.5 188.5 364.5 193.8 365.5 199.1 366.5 199.6 367.5 198.0 368.5 196.4 369.5 196.1 370.5 196.5 371.5 196.8 372.5 197.1 373.5 197.4 374.5 197.8 375.5 196.9 376.5 195.9 377.5 194.9 378.5 193.9 379.5 198.6 380.5 203.3 381.5 207.3 382.5 205.6 383.5 203.8 384.5 202.1 385.5 201.0 386.5 202.3 387.5 203.7 388.5 204.0 389.5 203.1 390.5 202.7 391.5 202.2 392.5 201.9 393.5 201.6 394.5 201.4 395.5 201.1 396.5 200.9 397.5 200.6 398.5 200.4 399.5 200.1 400.5 200.2 401.5 200.6 402.5 201.0 403.5 201.4 404.5 201.8 405.5 202.2 406.5 202.6 407.5 203.0 408.5 203.4 409.5 203.8 410.5 204.3 411.5 205.1 412.5 205.8 413.5 206.4 414.5 207.2 415.5 207.8 416.5 208.6 417.5 209.2 418.5 209.9 419.5 210.7 420.5 211.8 421.5 213.3 422.5 214.9 423.5 216.4 424.5 217.9 425.5 219.4 426.5 220.9 427.5 222.4 428.5 223.9 429.5 224.2 430.5 221.9 431.5 219.7 432.5 217.4 433.5 215.1 434.5 217.4 435.5 220.1 436.5 222.8 437.5 225.6 438.5 227.3 439.5 227.5 440.5 227.7 441.5 227.9 442.5 228.1 443.5 228.3 444.5 226.7 445.5 224.7 446.5 222.7 447.5 220.7 448.5 219.6 449.5 220.6 450.5 221.7 451.5 222.7 452.5 223.7 453.5 224.5 454.5 225.3 455.5 226.1 456.5 226.9 457.5 227.7 458.5 228.3 459.5 228.3 460.5 228.3 461.5 228.3 462.5 228.3 463.5 227.3 464.5 226.0 465.5 224.7 466.5 223.5 467.5 223.1 468.5 224.1 469.5 225.1 470.5 226.1 471.5 227.1 472.5 227.4 473.5 227.7 474.5 227.9 475.5 228.2 476.5 228.1 477.5 227.6 478.5 227.1 479.5 226.6 480.5 226.1 481.5 225.6 482.5 225.1 483.5 225.2 484.5 225.9 485.5 226.6 486.5 227.3 487.5 227.9 488.5 229.5 489.5 231.1 490.5 229.9 491.5 228.6 492.5 227.4 493.5 226.1 494.5 227.0 495.5 228.2 496.5 229.3 497.5 230.5 498.5 229.5 499.5 228.6 500.5 229.0 501.5 230.0 502.5 227.5 503.5 225.4 504.5 225.3 505.5 224.4 506.5 223.5 507.5 222.7 508.5 221.8 509.5 222.4 510.5 223.4 511.5 224.3 512.5 225.3 513.5 225.4 514.5 223.4 515.5 221.4 516.5 219.3 517.5 217.3 518.5 215.3 519.5 215.7 520.5 216.7 521.5 217.6 522.5 218.6 523.5 218.6 524.5 216.1 525.5 213.6 526.5 211.2 527.5 208.7 528.5 209.0 529.5 210.0 530.5 211.0 531.5 212.0 532.5 212.2 533.5 211.2 534.5 210.3 535.5 209.3 536.5 208.3 537.5 203.2 538.5 197.5 539.5 192.4 540.5 191.9 541.5 191.3 542.5 190.8 543.5 190.3 544.5 190.5 545.5 189.6 546.5 188.2 547.5 186.8 548.5 185.4 549.5 183.9 550.5 184.8 551.5 185.2 552.5 185.5 553.5 185.9 554.5 186.2 555.5 189.0 556.5 191.9 557.5 194.7 558.5 197.5 559.5 198.5 560.5 191.8 561.5 185.2 562.5 178.6 563.5 173.6 564.5 183.1 565.5 192.7 566.5 202.3 567.5 202.7 568.5 199.2 569.5 195.7 570.5 201.8 571.5 208.0 572.5 204.1 573.5 200.2 574.5 203.4 575.5 207.4 576.5 211.3 577.5 215.3 578.5 215.6 579.5 214.9 580.5 214.2 581.5 213.5 582.5 214.5 583.5 215.8 584.5 217.1 585.5 218.4 586.5 217.4 587.5 215.4 588.5 213.5 589.5 211.5 590.5 211.5 591.5 212.8 592.5 214.1 593.5 215.4 594.5 215.6 595.5 214.6 596.5 213.6 597.5 212.6 598.5 211.7 599.5 211.0 600.5 210.0 601.5 208.6 602.5 207.1 603.5 205.7 604.5 204.3 605.5 202.8 606.5 204.4 607.5 207.2 608.5 210.0 609.5 212.9 610.5 213.0 611.5 211.3 612.5 209.7 613.5 208.0 614.5 206.4 615.5 205.3 616.5 204.6 617.5 203.9 618.5 203.3 619.5 202.6 620.5 201.9 621.5 201.1 622.5 200.4 623.5 199.7 624.5 198.9 625.5 198.2 626.5 197.8 627.5 201.2 628.5 204.6 629.5 208.0 630.5 203.4 631.5 195.4 632.5 187.4 633.5 184.8 634.5 190.3 635.5 195.8 636.5 200.6 637.5 198.6 638.5 196.6 639.5 194.6 640.5 195.5 641.5 197.1 642.5 198.7 643.5 200.3 644.5 202.5 645.5 204.9 646.5 207.3 647.5 209.7 648.5 211.0 649.5 211.5 650.5 212.0 651.5 216.0 652.5 228.0 653.5 240.0 654.5 252.0 655.5 255.3 656.5 258.6 657.5 262.6 L657.5 265.0 Z"/>
<path fill="#5896dc" d="M128.5 265.0 L128.5 262.0 129.5 261.7 130.5 258.4 131.5 252.5 132.5 249.9 133.5 247.3 134.5 245.8 135.5 246.2 136.5 246.5 137.5 246.8 138.5 248.1 139.5 249.6 140.5 249.9 141.5 248.2 142.5 246.6 143.5 245.0 144.5 244.8 145.5 245.2 146.5 245.6 147.5 246.0 148.5 246.3 149.5 246.7 150.5 246.6 151.5 246.0 152.5 245.4 153.5 244.8 154.5 244.0 155.5 242.9 156.5 241.8 157.5 240.6 158.5 239.7 159.5 241.1 160.5 242.5 161.5 243.8 162.5 244.1 163.5 243.3 164.5 242.5 165.5 241.7 166.5 240.9 167.5 240.1 168.5 239.4 169.5 239.0 170.5 238.7 171.5 238.3 172.5 237.9 173.5 237.5 174.5 237.1 175.5 236.9 176.5 236.6 177.5 236.4 178.5 236.1 179.5 235.7 180.5 235.2 181.5 234.7 182.5 234.2 183.5 233.7 184.5 233.2 185.5 233.2 186.5 233.7 187.5 234.2 188.5 234.7 189.5 235.2 190.5 235.4 191.5 233.7 192.5 232.0 193.5 230.2 194.5 228.5 195.5 226.8 196.5 225.6 197.5 224.9 198.5 224.1 199.5 223.4 200.5 222.6 201.5 221.9 202.5 221.1 203.5 220.4 204.5 219.7 205.5 218.9 206.5 218.2 207.5 216.0 208.5 213.2 209.5 210.4 210.5 209.1 211.5 211.5 212.5 213.9 213.5 216.4 214.5 210.9 215.5 208.2 216.5 207.9 217.5 207.6 218.5 207.3 219.5 206.9 220.5 206.4 221.5 205.9 222.5 205.4 223.5 204.9 224.5 204.4 225.5 201.3 226.5 198.2 227.5 195.2 228.5 192.1 229.5 194.5 230.5 197.0 231.5 198.9 232.5 198.7 233.5 198.5 234.5 198.4 235.5 198.2 236.5 198.1 237.5 197.9 238.5 197.7 239.5 197.1 240.5 192.6 241.5 188.0 242.5 185.7 243.5 186.6 244.5 187.5 245.5 187.2 246.5 185.5 247.5 183.9 248.5 182.2 249.5 180.8 250.5 179.8 251.5 178.8 252.5 177.8 253.5 176.8 254.5 175.8 255.5 174.7 256.5 173.7 257.5 174.2 258.5 178.1 259.5 182.0 260.5 182.5 261.5 179.7 262.5 176.9 263.5 174.3 264.5 173.2 265.5 172.1 266.5 170.9 267.5 169.8 268.5 168.7 269.5 167.6 270.5 169.6 271.5 171.6 272.5 173.5 273.5 175.5 274.5 176.0 275.5 176.3 276.5 176.7 277.5 177.0 278.5 174.4 279.5 171.0 280.5 167.6 281.5 164.2 282.5 161.1 283.5 158.1 284.5 155.1 285.5 155.9 286.5 162.0 287.5 165.0 288.5 163.5 289.5 158.6 290.5 158.4 291.5 163.6 292.5 168.8 293.5 172.3 294.5 169.7 295.5 166.2 296.5 161.3 297.5 158.7 298.5 165.8 299.5 172.9 300.5 177.5 301.5 175.9 302.5 174.3 303.5 172.8 304.5 173.5 305.5 174.4 306.5 175.4 307.5 176.8 308.5 179.6 309.5 182.4 310.5 184.1 311.5 180.9 312.5 177.8 313.5 174.9 314.5 174.1 315.5 173.3 316.5 172.9 317.5 175.8 318.5 178.6 319.5 181.5 320.5 184.4 321.5 187.1 322.5 189.7 323.5 192.4 324.5 193.8 325.5 190.1 326.5 186.4 327.5 185.2 328.5 193.5 329.5 199.6 330.5 200.6 331.5 201.7 332.5 202.7 333.5 202.3 334.5 201.3 335.5 200.2 336.5 199.4 337.5 200.4 338.5 201.4 339.5 202.4 340.5 203.4 341.5 204.6 342.5 205.7 343.5 206.8 344.5 207.9 345.5 209.0 346.5 207.5 347.5 205.9 348.5 204.4 349.5 203.3 350.5 202.2 351.5 202.6 352.5 203.3 353.5 204.0 354.5 202.4 355.5 200.7 356.5 199.1 357.5 198.3 358.5 198.8 359.5 199.3 360.5 199.9 361.5 199.8 362.5 199.7 363.5 199.6 364.5 199.5 365.5 199.4 366.5 199.6 367.5 199.2 368.5 199.1 369.5 199.0 370.5 196.5 371.5 196.8 372.5 197.1 373.5 197.4 374.5 197.8 375.5 196.9 376.5 195.9 377.5 194.9 378.5 193.9 379.5 198.6 380.5 203.3 381.5 207.3 382.5 205.6 383.5 203.8 384.5 202.1 385.5 201.0 386.5 202.3 387.5 203.7 388.5 204.0 389.5 202.0 390.5 200.0 391.5 198.0 392.5 196.9 393.5 197.2 394.5 197.4 395.5 197.7 396.5 197.2 397.5 196.0 398.5 194.7 399.5 193.5 400.5 192.8 401.5 192.4 402.5 192.1 403.5 194.1 404.5 197.1 405.5 200.1 406.5 199.5 407.5 198.0 408.5 196.5 409.5 195.0 410.5 192.4 411.5 189.7 412.5 186.9 413.5 184.2 414.5 186.9 415.5 189.6 416.5 192.0 417.5 192.3 418.5 192.6 419.5 192.9 420.5 198.1 421.5 200.5 422.5 200.4 423.5 202.5 424.5 203.1 425.5 201.7 426.5 200.4 427.5 200.8 428.5 201.2 429.5 202.2 430.5 204.6 431.5 207.0 432.5 204.7 433.5 197.7 434.5 201.0 435.5 205.3 436.5 205.5 437.5 203.0 438.5 200.4 439.5 197.8 440.5 198.2 441.5 199.9 442.5 201.6 443.5 203.4 444.5 204.8 445.5 206.2 446.5 207.5 447.5 207.8 448.5 207.0 449.5 206.1 450.5 210.1 451.5 216.1 452.5 222.1 453.5 219.7 454.5 216.4 455.5 213.1 456.5 212.8 457.5 215.4 458.5 218.0 459.5 220.6 460.5 220.7 461.5 219.3 462.5 217.9 463.5 216.4 464.5 215.8 465.5 215.4 466.5 215.1 467.5 216.5 468.5 220.4 469.5 218.0 470.5 212.9 471.5 212.0 472.5 215.2 473.5 218.3 474.5 219.3 475.5 219.3 476.5 219.3 477.5 219.9 478.5 222.0 479.5 223.8 480.5 223.5 481.5 223.2 482.5 222.9 483.5 221.7 484.5 219.6 485.5 219.2 486.5 222.7 487.5 226.1 488.5 229.5 489.5 231.1 490.5 229.9 491.5 228.6 492.5 227.4 493.5 226.1 494.5 227.0 495.5 228.2 496.5 229.3 497.5 230.5 498.5 229.5 499.5 228.6 500.5 229.0 501.5 230.0 502.5 227.5 503.5 221.4 504.5 216.9 505.5 216.3 506.5 207.6 507.5 193.7 508.5 179.7 509.5 176.9 510.5 188.0 511.5 190.9 512.5 188.3 513.5 185.7 514.5 184.1 515.5 186.8 516.5 189.5 517.5 192.2 518.5 191.3 519.5 190.0 520.5 188.7 521.5 187.4 522.5 186.0 523.5 184.6 524.5 183.2 525.5 181.8 526.5 180.4 527.5 183.6 528.5 187.3 529.5 191.0 530.5 193.1 531.5 194.1 532.5 195.1 533.5 196.1 534.5 197.1 535.5 198.5 536.5 199.9 537.5 201.2 538.5 202.5 539.5 203.8 540.5 205.1 541.5 205.8 542.5 205.5 543.5 205.3 544.5 205.0 545.5 206.2 546.5 208.2 547.5 210.2 548.5 212.2 549.5 213.0 550.5 212.0 551.5 211.0 552.5 210.0 553.5 209.7 554.5 210.9 555.5 212.2 556.5 213.5 557.5 214.7 558.5 216.0 559.5 215.7 560.5 215.2 561.5 214.7 562.5 214.2 563.5 213.7 564.5 213.9 565.5 214.9 566.5 215.9 567.5 216.8 568.5 217.8 569.5 218.8 570.5 219.8 571.5 220.8 572.5 221.9 573.5 222.9 574.5 223.9 575.5 223.6 576.5 222.3 577.5 221.1 578.5 219.8 579.5 218.6 580.5 217.5 581.5 217.8 582.5 218.0 583.5 218.2 584.5 218.5 585.5 218.7 586.5 217.4 587.5 215.4 588.5 213.5 589.5 211.5 590.5 211.5 591.5 213.6 592.5 217.1 593.5 215.4 594.5 215.6 595.5 214.6 596.5 213.6 597.5 212.6 598.5 211.7 599.5 211.0 600.5 210.0 601.5 208.6 602.5 210.0 603.5 213.3 604.5 209.8 605.5 206.3 606.5 204.4 607.5 207.2 608.5 210.0 609.5 212.9 610.5 213.0 611.5 211.3 612.5 209.7 613.5 208.0 614.5 206.4 615.5 205.3 616.5 204.6 617.5 203.9 618.5 203.3 619.5 202.6 620.5 202.1 621.5 204.1 622.5 206.1 623.5 208.1 624.5 210.1 625.5 210.2 626.5 209.6 627.5 208.9 628.5 208.3 629.5 208.0 630.5 208.3 631.5 209.7 632.5 211.0 633.5 212.4 634.5 213.7 635.5 213.2 636.5 212.2 637.5 211.2 638.5 212.2 639.5 215.2 640.5 218.1 641.5 221.1 642.5 224.1 643.5 225.6 644.5 225.6 645.5 225.6 646.5 225.6 647.5 225.6 648.5 223.5 649.5 220.0 650.5 216.5 651.5 217.5 652.5 229.0 653.5 240.5 654.5 252.0 655.5 255.3 656.5 258.6 657.5 262.6 L657.5 265.0 Z"/>
<path fill="#5a8ad6" d="M128.5 265.0 L128.5 262.0 129.5 261.7 130.5 258.9 131.5 257.4 132.5 255.9 133.5 254.4 134.5 252.9 135.5 251.8 136.5 252.0 137.5 252.3 138.5 252.6 139.5 252.8 140.5 252.8 141.5 252.2 142.5 251.5 143.5 250.9 144.5 250.3 145.5 249.7 146.5 249.4 147.5 249.8 148.5 250.2 149.5 250.6 150.5 251.0 151.5 251.4 152.5 251.6 153.5 251.1 154.5 250.6 155.5 250.1 156.5 249.6 157.5 249.1 158.5 248.6 159.5 248.1 160.5 248.0 161.5 247.8 162.5 247.6 163.5 247.5 164.5 247.3 165.5 247.1 166.5 247.0 167.5 246.7 168.5 246.4 169.5 246.0 170.5 245.7 171.5 245.4 172.5 245.1 173.5 244.7 174.5 244.1 175.5 242.7 176.5 241.2 177.5 239.8 178.5 238.4 179.5 237.0 180.5 236.5 181.5 238.1 182.5 239.7 183.5 241.4 184.5 237.8 185.5 234.6 186.5 235.1 187.5 235.6 188.5 236.1 189.5 236.6 190.5 236.8 191.5 234.6 192.5 232.3 193.5 230.2 194.5 228.5 195.5 226.8 196.5 225.6 197.5 226.4 198.5 227.3 199.5 228.3 200.5 227.0 201.5 223.5 202.5 221.1 203.5 220.5 204.5 222.0 205.5 223.2 206.5 221.2 207.5 219.2 208.5 217.2 209.5 215.2 210.5 216.9 211.5 218.5 212.5 220.2 213.5 221.8 214.5 220.9 215.5 219.6 216.5 218.3 217.5 217.1 218.5 215.8 219.5 215.0 220.5 214.6 221.5 214.2 222.5 213.8 223.5 213.4 224.5 213.0 225.5 212.6 226.5 213.4 227.5 214.8 228.5 216.1 229.5 217.5 230.5 216.8 231.5 214.8 232.5 212.8 233.5 210.7 234.5 208.7 235.5 207.3 236.5 208.3 237.5 209.3 238.5 210.3 239.5 211.1 240.5 210.4 241.5 209.6 242.5 208.9 243.5 208.1 244.5 207.4 245.5 206.4 246.5 205.1 247.5 203.9 248.5 202.6 249.5 201.3 250.5 200.3 251.5 201.3 252.5 202.3 253.5 203.3 254.5 204.3 255.5 203.8 256.5 203.3 257.5 202.8 258.5 202.3 259.5 201.8 260.5 202.0 261.5 202.7 262.5 203.5 263.5 204.2 264.5 204.9 265.5 205.5 266.5 204.5 267.5 203.5 268.5 202.5 269.5 201.5 270.5 200.5 271.5 199.5 272.5 198.9 273.5 199.3 274.5 199.7 275.5 200.2 276.5 200.6 277.5 201.0 278.5 201.4 279.5 201.1 280.5 200.1 281.5 199.1 282.5 198.1 283.5 197.6 284.5 197.8 285.5 198.0 286.5 198.2 287.5 198.3 288.5 198.5 289.5 198.7 290.5 197.2 291.5 194.6 292.5 192.0 293.5 189.3 294.5 174.4 295.5 166.2 296.5 161.3 297.5 158.7 298.5 165.8 299.5 172.9 300.5 177.5 301.5 175.9 302.5 174.3 303.5 172.8 304.5 173.5 305.5 174.4 306.5 175.4 307.5 176.8 308.5 179.6 309.5 182.4 310.5 184.1 311.5 180.9 312.5 177.8 313.5 174.9 314.5 174.1 315.5 173.3 316.5 172.9 317.5 175.8 318.5 178.6 319.5 181.5 320.5 184.4 321.5 187.1 322.5 189.7 323.5 192.4 324.5 193.8 325.5 190.1 326.5 186.4 327.5 185.2 328.5 193.5 329.5 199.6 330.5 200.6 331.5 201.7 332.5 202.7 333.5 202.3 334.5 201.3 335.5 200.2 336.5 199.4 337.5 200.4 338.5 201.4 339.5 202.4 340.5 203.4 341.5 204.6 342.5 205.7 343.5 206.8 344.5 207.9 345.5 209.0 346.5 207.5 347.5 205.9 348.5 204.4 349.5 203.3 350.5 202.2 351.5 202.6 352.5 203.3 353.5 204.0 354.5 202.4 355.5 200.7 356.5 199.1 357.5 198.3 358.5 198.8 359.5 199.3 360.5 199.9 361.5 199.8 362.5 199.7 363.5 199.6 364.5 199.5 365.5 199.4 366.5 199.6 367.5 199.2 368.5 199.1 369.5 199.0 370.5 196.5 371.5 196.8 372.5 197.1 373.5 197.4 374.5 197.8 375.5 196.9 376.5 195.9 377.5 194.9 378.5 193.9 379.5 198.6 380.5 203.3 381.5 207.3 382.5 205.6 383.5 203.8 384.5 202.1 385.5 201.0 386.5 202.3 387.5 203.7 388.5 204.0 389.5 203.1 390.5 202.7 391.5 202.2 392.5 201.9 393.5 201.6 394.5 201.4 395.5 201.1 396.5 200.9 397.5 200.6 398.5 200.4 399.5 200.1 400.5 200.2 401.5 200.6 402.5 201.0 403.5 201.4 404.5 201.8 405.5 202.2 406.5 202.6 407.5 203.0 408.5 203.4 409.5 203.8 410.5 204.3 411.5 205.1 412.5 205.8 413.5 206.4 414.5 207.2 415.5 207.8 416.5 208.6 417.5 209.2 418.5 209.9 419.5 210.7 420.5 211.8 421.5 213.3 422.5 214.9 423.5 216.4 424.5 217.9 425.5 219.4 426.5 220.9 427.5 222.4 428.5 223.9 429.5 224.2 430.5 221.9 431.5 219.7 432.5 217.4 433.5 215.1 434.5 217.4 435.5 220.1 436.5 222.8 437.5 225.6 438.5 227.3 439.5 227.5 440.5 227.7 441.5 227.9 442.5 228.1 443.5 228.3 444.5 226.7 445.5 224.7 446.5 222.7 447.5 220.7 448.5 219.6 449.5 220.6 450.5 221.7 451.5 222.7 452.5 223.7 453.5 224.5 454.5 225.3 455.5 226.1 456.5 226.9 457.5 227.7 458.5 228.3 459.5 228.3 460.5 228.3 461.5 228.3 462.5 228.3 463.5 227.3 464.5 226.0 465.5 224.7 466.5 223.5 467.5 223.1 468.5 224.1 469.5 225.1 470.5 226.1 471.5 227.1 472.5 227.4 473.5 227.7 474.5 227.9 475.5 228.2 476.5 228.1 477.5 227.6 478.5 227.1 479.5 226.6 480.5 226.1 481.5 225.6 482.5 225.1 483.5 225.2 484.5 225.9 485.5 226.6 486.5 227.3 487.5 227.9 488.5 229.5 489.5 231.1 490.5 229.9 491.5 228.6 492.5 227.4 493.5 226.1 494.5 227.0 495.5 228.2 496.5 229.3 497.5 230.5 498.5 229.5 499.5 228.6 500.5 229.0 501.5 230.0 502.5 227.5 503.5 225.4 504.5 225.3 505.5 224.4 506.5 223.5 507.5 222.7 508.5 221.8 509.5 222.4 510.5 223.4 511.5 224.3 512.5 225.3 513.5 225.4 514.5 223.4 515.5 221.4 516.5 219.3 517.5 217.3 518.5 215.3 519.5 215.7 520.5 216.7 521.5 217.6 522.5 218.6 523.5 218.6 524.5 216.1 525.5 213.6 526.5 211.2 527.5 208.7 528.5 209.0 529.5 210.0 530.5 211.0 531.5 212.0 532.5 212.2 533.5 211.2 534.5 210.3 535.5 209.3 536.5 208.3 537.5 203.2 538.5 202.5 539.5 203.8 540.5 205.1 541.5 205.8 542.5 205.5 543.5 205.3 544.5 205.0 545.5 206.2 546.5 208.2 547.5 210.2 548.5 212.2 549.5 213.0 550.5 212.0 551.5 211.0 552.5 210.0 553.5 209.7 554.5 210.9 555.5 212.2 556.5 213.5 557.5 214.7 558.5 216.0 559.5 215.7 560.5 215.2 561.5 214.7 562.5 214.2 563.5 213.7 564.5 213.9 565.5 214.9 566.5 215.9 567.5 216.8 568.5 217.8 569.5 218.8 570.5 219.8 571.5 220.8 572.5 221.9 573.5 222.9 574.5 223.9 575.5 223.6 576.5 222.3 577.5 221.1 578.5 219.8 579.5 218.6 580.5 217.5 581.5 217.8 582.5 218.0 583.5 218.2 584.5 218.5 585.5 218.7 586.5 217.4 587.5 215.4 588.5 213.5 589.5 211.5 590.5 211.5 591.5 213.6 592.5 217.1 593.5 215.4 594.5 215.6 595.5 214.6 596.5 213.6 597.5 212.6 598.5 211.7 599.5 211.0 600.5 210.0 601.5 208.6 602.5 210.0 603.5 213.3 604.5 209.8 605.5 206.3 606.5 204.4 607.5 207.2 608.5 210.0 609.5 212.9 610.5 213.0 611.5 211.3 612.5 209.7 613.5 208.0 614.5 206.4 615.5 205.3 616.5 204.6 617.5 203.9 618.5 203.3 619.5 202.6 620.5 202.1 621.5 204.1 622.5 206.1 623.5 208.1 624.5 210.1 625.5 210.2 626.5 209.6 627.5 208.9 628.5 208.3 629.5 208.0 630.5 208.3 631.5 209.7 632.5 211.0 633.5 212.4 634.5 213.7 635.5 213.2 636.5 212.2 637.5 211.2 638.5 212.2 639.5 215.2 640.5 218.1 641.5 221.1 642.5 224.1 643.5 225.6 644.5 225.6 645.5 225.6 646.5 225.6 647.5 225.6 648.5 223.5 649.5 220.0 650.5 216.5 651.5 217.5 652.5 229.0 653.5 240.5 654.5 252.0 655.5 255.3 656.5 258.6 657.5 262.6 L657.5 265.0 Z"/>
    </g>
    </svg>
    <div class="abs" style="left:0;top:0;width:530px;height:190px;border-radius:8px;border:2px solid #b8b8b8;"></div>
  </div>

  <div class="abs" style="left:128px;top:302px;width:530px;height:8px;border-radius:4px;background:#e3e3e3;"></div>
  <div class="abs" style="left:128px;top:302px;width:265px;height:8px;border-radius:4px 0 0 4px;background:#f49200;"></div>
  <div class="knob" style="left:126px;top:293px;background:#5b5b5b;"></div>
  <div class="knob" style="left:385px;top:293px;background:#8e8e8e;"></div>
  <div class="knob" style="left:626px;top:293px;"></div>
  <div class="lvl" style="left:127.8px;top:327.69px;letter-spacing:0.6px">0 %</div>
  <div class="lvl" style="left:345px;top:327.69px;letter-spacing:0.2px">Niveaux</div>
  <div class="lvl" style="right:125.1px;top:327.69px;letter-spacing:0.7px">97 %</div>

  <div class="sep" style="top:370px"></div>
  <div class="sep" style="top:555px"></div>

<div class="lbl" style="top:403.89px;right:487.78px;letter-spacing:0.42px">Exposition :</div>
<div class="val" style="top:403.89px">0 %</div>
<div class="trk" style="top:416.20px"></div>
<div class="fill" style="top:416.20px;width:154.5px"></div>
<div class="rknob" style="top:402.90px;left:464.5px"></div>
<div class="lbl" style="top:455.09px;right:487.72px;letter-spacing:0.48px">Contraste :</div>
<div class="val" style="top:455.09px">0 %</div>
<div class="trk" style="top:467.40px"></div>
<div class="fill" style="top:467.40px;width:154.5px"></div>
<div class="rknob" style="top:454.10px;left:464.5px"></div>
<div class="lbl" style="top:506.29px;right:487.66px;letter-spacing:0.54px">Saturation :</div>
<div class="val" style="top:506.29px">0 %</div>
<div class="trk" style="top:518.60px"></div>
<div class="fill" style="top:518.60px;width:154.5px"></div>
<div class="rknob" style="top:505.30px;left:464.5px"></div>
<div class="lbl" style="top:579.29px;right:487.80px;letter-spacing:0.4px">Tons clairs :</div>
<div class="val" style="top:579.29px">0 %</div>
<div class="trk" style="top:591.60px"></div>
<div class="dot" style="top:605.60px"></div>
<div class="rknob" style="top:578.30px;left:320.1px"></div>
<div class="lbl" style="top:630.29px;right:487.78px;letter-spacing:0.42px">Tons sombres :</div>
<div class="val" style="top:630.29px">0 %</div>
<div class="trk" style="top:642.60px"></div>
<div class="dot" style="top:656.60px"></div>
<div class="rknob" style="top:629.30px;left:320.1px"></div>
<div class="lbl" style="top:681.39px;right:487.40px;letter-spacing:0.8px">Netteté :</div>
<div class="val" style="top:681.39px">0 %</div>
<div class="trk" style="top:693.70px"></div>
<div class="dot" style="top:707.70px"></div>
<div class="rknob" style="top:680.40px;left:320.1px"></div>
<div class="lbl" style="top:732.39px;right:487.65px;letter-spacing:0.55px">Suppression du bruit :</div>
<div class="val" style="top:732.39px">0 %</div>
<div class="trk" style="top:744.70px"></div>
<div class="dot" style="top:758.70px"></div>
<div class="rknob" style="top:731.40px;left:320.1px"></div>
<div class="lbl" style="top:801.49px;right:487.73px;letter-spacing:0.47px">Température :</div>
<div class="val" style="top:801.49px">0 %</div>
<div class="trk" style="top:813.80px"></div>
<div class="fill" style="top:813.80px;width:154.5px"></div>
<div class="rknob" style="top:800.50px;left:464.5px"></div>
<div class="lbl" style="top:852.59px;right:487.63px;letter-spacing:0.57px">Teinte :</div>
<div class="val" style="top:852.59px">0 %</div>
<div class="trk" style="top:864.90px"></div>
<div class="fill" style="top:864.90px;width:154.5px"></div>
<div class="rknob" style="top:851.60px;left:464.5px"></div>

  <div class="btn" style="left:40px;width:325px;"></div>
  <div class="btn" style="left:419px;width:324px;"></div>
  <div class="btxt" style="left:144px;top:963.79px">Améliorer</div>
  <div class="btxt" style="left:512px;top:963.79px">Réinitialiser</div>
  <div class="wborder"></div>
</div>
</body></html>
